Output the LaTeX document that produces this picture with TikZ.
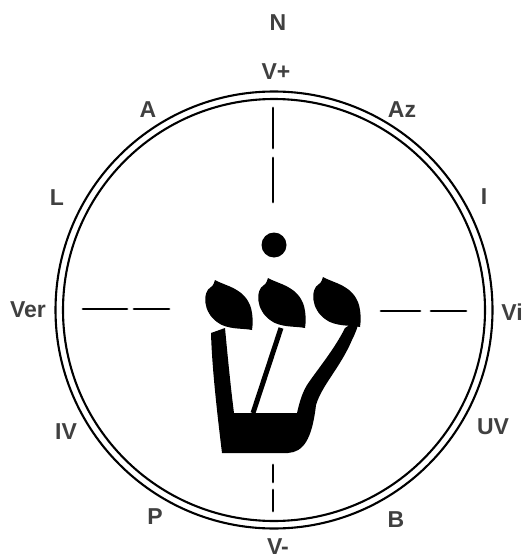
\documentclass[tikz,border=0pt]{standalone}
\usepackage{fontspec}
\setmainfont{Liberation Sans}
\begin{document}
\begin{tikzpicture}[x=1pt,y=-1pt,
  lbl/.style={font=\fontsize{23}{23}\selectfont\bfseries, text=black!75, inner sep=0pt},
  ring/.style={line width=2.1pt, draw=black},
  dashseg/.style={line width=2.8pt, line cap=round},
  head/.pic={\fill (0,0) .. controls (10,6) and (30,8) .. (36,28) .. controls (38,36) and (38,44) .. (37,50)
              .. controls (28,48) and (12,50) .. (2,42) .. controls (-12,32) and (-13,12) .. (-4,7)
              .. controls (-1,5) and (-1,2) .. (0,0) -- cycle;}]
\useasboundingbox (0,0) rectangle (525,559);
\fill[white] (0,0) rectangle (525,559);
% rings
\coordinate (c) at (274,310);
\draw[ring] (c) circle[radius=218.5];
\draw[ring] (c) circle[radius=211];
% dashed axes
\draw[dashseg] (273,108) -- (273,148);
\draw[dashseg] (273,158) -- (273,202);
\draw[dashseg] (273,465) -- (273,482);
\draw[dashseg] (273,490) -- (273,511);
\draw[dashseg] (83,309) -- (127,309);
\draw[dashseg] (134,309) -- (169,309);
\draw[dashseg] (381,311) -- (420,311);
\draw[dashseg] (431,311) -- (466,311);
% dot
\fill (274,245) circle[radius=12.5];
% shin letter body
\fill (211,333) .. controls (212,370) and (218,420) .. (222,453)
  -- (288,453) .. controls (303,452) and (312,440) .. (316,405)
  .. controls (322,385) and (340,368) .. (352,340) .. controls (356,332) and (358,326) .. (360,318)
  -- (345,328) .. controls (334,350) and (317,370) .. (307,385)
  .. controls (301,395) and (299,405) .. (297,413)
  -- (234,413) .. controls (231,390) and (228,360) .. (225,328) -- cycle;
\draw[line width=5pt] (281,328) -- (253,413);
% heads
\pic at (215,280) {head};
\pic at (268,278) {head};
\pic at (323,277) {head};
% labels
\node[lbl] (n) at (278,23) {N};
\node[lbl] (vp) at (276,72) {V+};
\node[lbl] (a) at (148,110) {A};
\node[lbl] (az) at (402,110) {Az};
\node[lbl] (l) at (57,198) {L};
\node[lbl] (i) at (484,197) {I};
\node[lbl] (ver) at (28,310) {Ver};
\node[lbl] (vi) at (512,312) {Vi};
\node[lbl] (iv) at (66,432) {IV};
\node[lbl] (uv) at (493,427) {UV};
\node[lbl] (p) at (155,517) {P};
\node[lbl] (b) at (396,520) {B};
\node[lbl] (vm) at (278,547) {V-};
\end{tikzpicture}
\end{document}
